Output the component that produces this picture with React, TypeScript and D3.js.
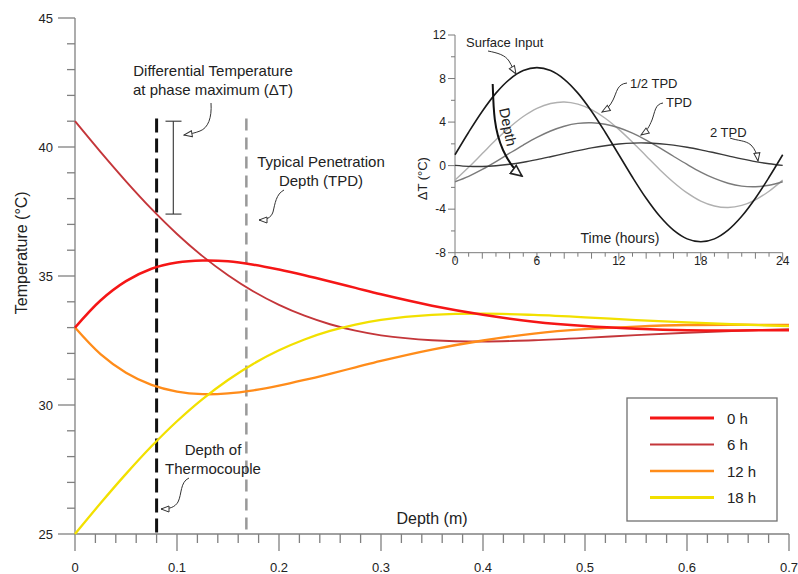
import React from "react";
import * as d3 from "d3";

// ---------- Main chart data ----------
const depth = [0, 0.025, 0.05, 0.075, 0.1, 0.125, 0.15, 0.175, 0.2, 0.225, 0.25, 0.275, 0.3, 0.35, 0.4, 0.45, 0.5, 0.55, 0.6, 0.65, 0.7];
const temp0h = [33, 34.05, 34.8, 35.28, 35.52, 35.6, 35.57, 35.44, 35.25, 35.03, 34.79, 34.54, 34.29, 33.85, 33.5, 33.23, 33.06, 32.96, 32.9, 32.89, 32.9];
const temp6h = [41, 39.81, 38.67, 37.6, 36.63, 35.77, 35.03, 34.4, 33.88, 33.46, 33.13, 32.88, 32.7, 32.51, 32.46, 32.51, 32.6, 32.71, 32.8, 32.88, 32.94];
const temp12h = [33, 31.97, 31.25, 30.78, 30.52, 30.42, 30.45, 30.57, 30.75, 30.97, 31.21, 31.46, 31.71, 32.15, 32.5, 32.77, 32.94, 33.04, 33.1, 33.11, 33.1];
const temp18h = [25, 26.19, 27.33, 28.4, 29.37, 30.23, 30.97, 31.6, 32.12, 32.54, 32.87, 33.12, 33.3, 33.49, 33.54, 33.49, 33.4, 33.29, 33.2, 33.12, 33.06];
const seriesNames = ["0 h", "6 h", "12 h", "18 h"];
const xTicks = [0, 0.1, 0.2, 0.3, 0.4, 0.5, 0.6, 0.7];
const yTicks = [25, 30, 35, 40, 45];
const thermocoupleDepth = 0.08;
const tpdDepth = 0.168;
const deltaTop = 41;
const deltaBottom = 37.4;
const markerLineTop = 41.1;

// ---------- Inset data ----------
const hours = [0, 1, 2, 3, 4, 5, 6, 7, 8, 9, 10, 11, 12, 13, 14, 15, 16, 17, 18, 19, 20, 21, 22, 23, 24];
const surface = [1, 3.07, 5, 6.66, 7.93, 8.73, 9, 8.73, 7.93, 6.66, 5, 3.07, 1, -1.07, -3, -4.66, -5.93, -6.73, -7, -6.73, -5.93, -4.66, -3, -1.07, 1];
const halfTPD = [-1.33, -0.15, 1.11, 2.37, 3.52, 4.51, 5.26, 5.71, 5.85, 5.65, 5.14, 4.35, 3.33, 2.15, 0.89, -0.37, -1.52, -2.51, -3.26, -3.71, -3.85, -3.65, -3.14, -2.35, -1.33];
const oneTPD = [-1.48, -0.98, -0.35, 0.37, 1.14, 1.89, 2.59, 3.18, 3.62, 3.88, 3.94, 3.8, 3.48, 2.98, 2.35, 1.63, 0.86, 0.11, -0.59, -1.18, -1.62, -1.88, -1.94, -1.8, -1.48];
const twoTPD = [0.02, -0.07, -0.08, -0.01, 0.12, 0.31, 0.55, 0.82, 1.1, 1.38, 1.63, 1.83, 1.98, 2.07, 2.08, 2.01, 1.88, 1.69, 1.45, 1.18, 0.9, 0.62, 0.37, 0.17, 0.02];
const insetXTicks = [0, 6, 12, 18, 24];
const insetYTicks = [-8, -4, 0, 4, 8, 12];

const FONT = "'Liberation Sans', Arial, Helvetica, sans-serif";
const TXT = "#222";

export default function App() {
  const W = 798, H = 574;
  const x = d3.scaleLinear().domain([0, 0.7]).range([75, 789]);
  const y = d3.scaleLinear().domain([25, 45]).range([534, 18]);
  const ix = d3.scaleLinear().domain([0, 24]).range([455, 782.7]);
  const iy = d3.scaleLinear().domain([-8, 12]).range([252.7, 35]);

  const mainLine = d3.line<number>().x((_, i) => x(depth[i])).y((d) => y(d)).curve(d3.curveCatmullRom.alpha(0.5));
  const insetLine = d3.line<number>().x((_, i) => ix(hours[i])).y((d) => iy(d)).curve(d3.curveCatmullRom.alpha(0.5));

  const mainSeries = [
    { name: seriesNames[1], data: temp6h, color: "#c4363a", w: 1.9, lw: 2.2 },
    { name: seriesNames[2], data: temp12h, color: "#ff8c1a", w: 2.3, lw: 2.6 },
    { name: seriesNames[3], data: temp18h, color: "#f2e000", w: 2.3, lw: 3.0 },
    { name: seriesNames[0], data: temp0h, color: "#f51616", w: 2.5, lw: 3.2 },
  ];
  const legendOrder = [3, 0, 1, 2];

  const xMinor = d3.range(0, 0.7001, 0.02);
  const yMinor = d3.range(25, 45.001, 1);
  const ixMinor = d3.range(0, 24.001, 1);
  const iyMinor = d3.range(-8, 12.001, 2);

  const insetSeries = [
    { data: halfTPD, color: "#b0b0b0", w: 1.4 },
    { data: oneTPD, color: "#7a7a7a", w: 1.4 },
    { data: twoTPD, color: "#3a3a3a", w: 1.4 },
    { data: surface, color: "#1a1a1a", w: 1.6 },
  ];

  const arrow = (d: string, key: string) => (
    <path key={key} d={d} fill="none" stroke="#333" strokeWidth={1} markerEnd="url(#openHead)" />
  );

  return (
    <svg width={W} height={H} style={{ position: "absolute", left: 0, top: 0, background: "#fff" }} fontFamily={FONT}>
      <defs>
        <marker id="openHead" markerUnits="userSpaceOnUse" viewBox="0 0 10 8" refX="9" refY="4" markerWidth="10" markerHeight="8" orient="auto">
          <path d="M1,1 L9,4 L1,7 Z" fill="#fff" stroke="#333" strokeWidth={1} />
        </marker>
        <marker id="bigHead" markerUnits="userSpaceOnUse" viewBox="0 0 14 12" refX="12" refY="6" markerWidth="14" markerHeight="12" orient="auto">
          <path d="M1,1 L12,6 L1,11 Z" fill="#fff" stroke="#222" strokeWidth={1.6} />
        </marker>
      </defs>

      {/* main axes */}
      <g stroke="#808080" strokeWidth={1.3}>
        <line x1={x(0)} x2={x(0)} y1={y(45)} y2={y(25)} />
        <line x1={x(0)} x2={x(0.7)} y1={y(25)} y2={y(25)} />
        {yMinor.map((v) => (
          <line key={"ym" + v} x1={x(0) - (yTicks.includes(Math.round(v)) ? 17 : 8)} x2={x(0)} y1={y(v)} y2={y(v)} />
        ))}
        {xMinor.map((v, i) => (
          <line key={"xm" + i} x1={x(v)} x2={x(v)} y1={y(25)} y2={y(25) + (i % 5 === 0 ? 17 : 9)} />
        ))}
      </g>
      <g fill={TXT} fontSize={13}>
        {yTicks.map((v) => (
          <text key={"yt" + v} x={x(0) - 22} y={y(v) + 4.7} textAnchor="end">{v}</text>
        ))}
        {xTicks.map((v) => (
          <text key={"xt" + v} x={x(v)} y={572} textAnchor="middle">{v}</text>
        ))}
      </g>
      <text transform={`translate(27,${y(35.9)}) rotate(-90)`} textAnchor="middle" fontSize={16} fill={TXT}>Temperature (°C)</text>
      <text x={x(0.35)} y={524} textAnchor="middle" fontSize={16} fill={TXT}>Depth (m)</text>

      {/* vertical markers */}
      <line x1={x(thermocoupleDepth)} x2={x(thermocoupleDepth)} y1={y(markerLineTop)} y2={y(25)} stroke="#111" strokeWidth={3} strokeDasharray="14 6" />
      <line x1={x(tpdDepth)} x2={x(tpdDepth)} y1={y(markerLineTop)} y2={y(25)} stroke="#999" strokeWidth={2.5} strokeDasharray="12 7" />

      {/* main curves */}
      {mainSeries.map((s) => (
        <path key={s.name} d={mainLine(s.data) || ""} fill="none" stroke={s.color} strokeWidth={s.w} />
      ))}

      {/* delta T bar */}
      <g stroke="#333" strokeWidth={1.1}>
        <line x1={173.3} x2={173.3} y1={y(deltaTop)} y2={y(deltaBottom)} />
        <line x1={165.5} x2={181.5} y1={y(deltaTop)} y2={y(deltaTop)} />
        <line x1={165.5} x2={181.5} y1={y(deltaBottom)} y2={y(deltaBottom)} />
      </g>

      {/* annotations main */}
      <g fontSize={15} fill={TXT} textAnchor="middle">
        <text x={213} y={76}>Differential Temperature</text>
        <text x={213} y={95}>at phase maximum (ΔT)</text>
        <text x={321} y={167}>Typical Penetration</text>
        <text x={321} y={186}>Depth (TPD)</text>
        <text x={213} y={455}>Depth of</text>
        <text x={213} y={474}>Thermocouple</text>
      </g>
      {arrow("M211,103 C212,118 208,128 200,131 C195,133 190,134 184,135", "a1")}
      {arrow("M284,190 C276,194 275,204 273,212 C271,218 266,220 259,220", "a2")}
      {arrow("M189,478 C180,482 182,494 178,502 C175,507 170,509 161,509", "a3")}

      {/* inset axes */}
      <g stroke="#7a7a7a" strokeWidth={1}>
        <line x1={ix(0)} x2={ix(0)} y1={iy(12)} y2={iy(-8)} />
        <line x1={ix(0)} x2={ix(24)} y1={iy(-8)} y2={iy(-8)} />
        {iyMinor.map((v) => (
          <line key={"iym" + v} x1={ix(0) - (insetYTicks.includes(v) ? 7 : 4)} x2={ix(0)} y1={iy(v)} y2={iy(v)} />
        ))}
        {ixMinor.map((v) => (
          <line key={"ixm" + v} x1={ix(v)} x2={ix(v)} y1={iy(-8)} y2={iy(-8) + (v % 6 === 0 ? 8 : v % 2 === 0 ? 6 : 4)} />
        ))}
      </g>
      <g fill={TXT} fontSize={12}>
        {insetYTicks.map((v) => (
          <text key={"iyt" + v} x={ix(0) - 9} y={iy(v) + 4.3} textAnchor="end">{v}</text>
        ))}
        {insetXTicks.map((v) => (
          <text key={"ixt" + v} x={ix(v)} y={265} textAnchor="middle">{v}</text>
        ))}
      </g>
      <text transform={`translate(427,${iy(-1.2)}) rotate(-90)`} textAnchor="middle" fontSize={13} fill={TXT}>ΔT (°C)</text>
      <text x={620} y={243} textAnchor="middle" fontSize={14} fill={TXT}>Time (hours)</text>

      {insetSeries.map((s, i) => (
        <path key={"is" + i} d={insetLine(s.data) || ""} fill="none" stroke={s.color} strokeWidth={s.w} />
      ))}

      {/* inset annotations */}
      <g fontSize={13} fill={TXT}>
        <text x={466} y={47}>Surface Input</text>
        <text x={630} y={88}>1/2 TPD</text>
        <text x={666} y={107}>TPD</text>
        <text x={710} y={137}>2 TPD</text>
      </g>
      {arrow("M488,51 C498,53 505,55 509,61 C512,66 513,69 516,74", "b1")}
      {arrow("M627,83 C617,84 617,92 613,100 C610,106 607,109 602,112", "b2")}
      {arrow("M663,103 C655,104 655,112 652,120 C649,127 647,131 641,135", "b3")}
      {arrow("M730,138 C738,141 745,140 751,145 C755,149 757,154 758,161", "b4")}

      {/* depth arrow */}
      <path d="M492.7,84 C493.5,110 494,130 503,150 C509,163 514,170 522,176" fill="none" stroke="#111" strokeWidth={2} markerEnd="url(#bigHead)" />
      <text transform="translate(503,128) rotate(78)" textAnchor="middle" fontSize={14.5} fill={TXT}>Depth</text>

      {/* legend */}
      <rect x={627} y={398} width={150} height={123} fill="#fff" stroke="#707070" strokeWidth={1.3} />
      {legendOrder.map((si, row) => {
        const s = mainSeries[si];
        const cy = 418 + row * 26.5;
        return (
          <g key={"lg" + row}>
            <line x1={650} x2={714} y1={cy} y2={cy} stroke={s.color} strokeWidth={s.lw} />
            <text x={727} y={cy + 5.5} fontSize={15} fill={TXT}>{s.name}</text>
          </g>
        );
      })}
    </svg>
  );
}
